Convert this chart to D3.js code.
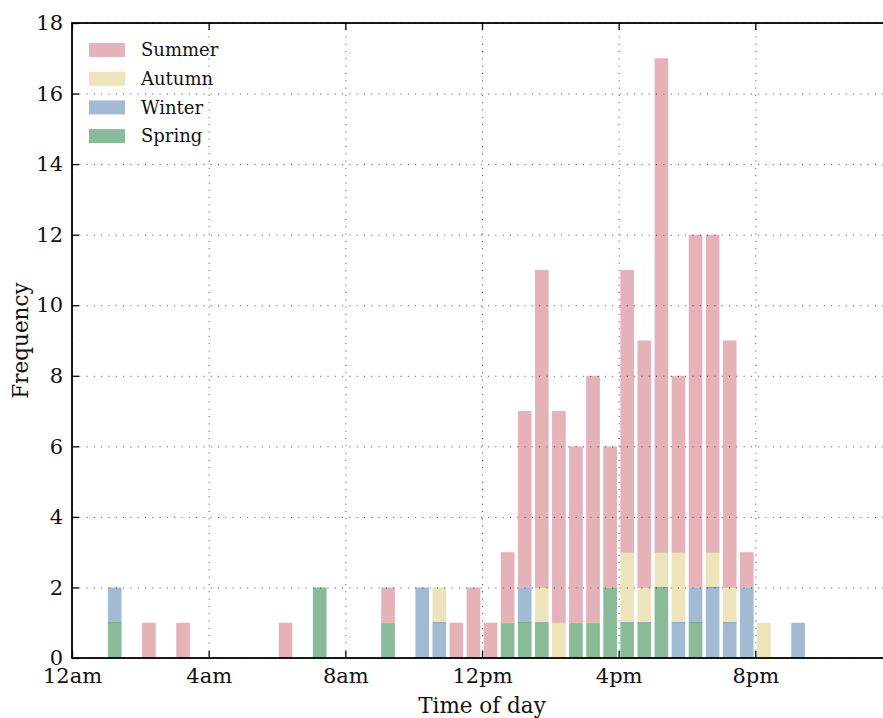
<!DOCTYPE html>
<html>
<head>
<meta charset="utf-8">
<script src="https://cdnjs.cloudflare.com/ajax/libs/d3/7.8.5/d3.min.js"></script>
<style>
  body { margin: 0; background: #fff; }
  svg { display: block; font-family: "DejaVu Serif", serif; }
</style>
</head>
<body>
<svg id="chart"></svg>
<script>
// half-hour bins, 0 = 12:00am-12:30am
var binHours = d3.range(0, 24, 0.5);

var spring = [0,0,1,0,0,0,0,0,0,0, 0,0,0,0,2,0,0,0,1,0, 0,0,0,0,0,1,1,1,0,1, 1,2,1,1,2,0,1,0,0,0, 0,0,0,0,0,0,0,0];
var winter = [0,0,1,0,0,0,0,0,0,0, 0,0,0,0,0,0,0,0,0,0, 2,1,0,0,0,0,1,0,0,0, 0,0,0,0,0,1,1,2,1,2, 0,0,1,0,0,0,0,0];
var autumn = [0,0,0,0,0,0,0,0,0,0, 0,0,0,0,0,0,0,0,0,0, 0,1,0,0,0,0,0,1,1,0, 0,0,2,1,1,2,0,1,1,0, 1,0,0,0,0,0,0,0];
var summer = [0,0,0,0,1,0,1,0,0,0, 0,0,1,0,0,0,0,0,1,0, 0,0,1,2,1,2,5,9,6,5, 7,4,8,7,14,5,10,9,7,1, 0,0,0,0,0,0,0,0];

var seasons = ["Spring", "Winter", "Autumn", "Summer"];   // stacking order, bottom first
var colors = { Spring: "#89bb99", Winter: "#a1bbd5", Autumn: "#ede4bb", Summer: "#e5b2ba" };
var edgeColors = { Spring: "#6f9f80", Winter: "#7f9dbd", Autumn: "#d3c79a", Summer: "#d39aa3" };

var xTicks = [0, 4, 8, 12, 16, 20];
var xTickLabels = ["12am", "4am", "8am", "12pm", "4pm", "8pm"];
var yTicks = d3.range(0, 19, 2);

var table = binHours.map(function(h, i) {
  return { hour: h, Spring: spring[i], Winter: winter[i], Autumn: autumn[i], Summer: summer[i] };
});

var svgWidth = 883, svgHeight = 718;
var margin = { top: 23, left: 72, bottom: 60 };
var plotRight = 892;   // right edge of the axes falls just past the picture
var height = svgHeight - margin.top - margin.bottom;

var svg = d3.select("#chart")
    .attr("width", svgWidth)
    .attr("height", svgHeight);

var x = d3.scaleLinear().domain([0, 24]).range([margin.left, plotRight]);
var y = d3.scaleLinear().domain([0, 18]).range([margin.top + height, margin.top]);

var stacked = d3.stack().keys(seasons)(table);
var binW = x(0.5) - x(0);
var barW = binW * 0.8;

var bars = svg.append("g");
stacked.forEach(function(layer) {
  var key = layer.key;
  var segs = layer.filter(function(d) { return d[1] > d[0]; });
  bars.selectAll(null)
      .data(segs)
      .enter().append("rect")
      .attr("x", function(d) { return x(d.data.hour) + (binW - barW) / 2; })
      .attr("y", function(d) { return y(d[1]); })
      .attr("width", barW)
      .attr("height", function(d) { return y(d[0]) - y(d[1]); })
      .attr("fill", colors[key]);
  // faint darker edge where segments meet
  bars.selectAll(null)
      .data(segs.filter(function(d) { return d[0] > 0; }))
      .enter().append("line")
      .attr("x1", function(d) { return x(d.data.hour) + (binW - barW) / 2; })
      .attr("x2", function(d) { return x(d.data.hour) + (binW + barW) / 2; })
      .attr("y1", function(d) { return y(d[0]); })
      .attr("y2", function(d) { return y(d[0]); })
      .attr("stroke", function(d) {
        var below = seasons[seasons.indexOf(key) - 1];
        return edgeColors[below];
      })
      .attr("stroke-width", 1);
});

// dotted grid, drawn over bars
var grid = svg.append("g")
    .attr("stroke", "#444")
    .attr("stroke-width", 1)
    .attr("stroke-dasharray", "1,6.3");
grid.selectAll(null).data(xTicks.concat([24])).enter().append("line")
    .attr("x1", function(d) { return x(d) + 0.5; })
    .attr("x2", function(d) { return x(d) + 0.5; })
    .attr("y1", y(0)).attr("y2", y(18));
grid.selectAll(null).data(yTicks).enter().append("line")
    .attr("x1", x(0)).attr("x2", x(24))
    .attr("y1", function(d) { return y(d) + 0.5; })
    .attr("y2", function(d) { return y(d) + 0.5; });

var tickLen = 7;
var fmtX = function(d) { return xTickLabels[xTicks.indexOf(d)]; };

var xAxis = svg.append("g")
    .attr("transform", "translate(0," + y(0) + ")")
    .call(d3.axisBottom(x).tickValues(xTicks).tickFormat(fmtX)
      .tickSizeInner(-tickLen).tickSizeOuter(0).tickPadding(10));
var xAxisTop = svg.append("g")
    .attr("transform", "translate(0," + y(18) + ")")
    .call(d3.axisTop(x).tickValues(xTicks).tickFormat("")
      .tickSizeInner(-tickLen).tickSizeOuter(0));
var yAxis = svg.append("g")
    .attr("transform", "translate(" + x(0) + ",0)")
    .call(d3.axisLeft(y).tickValues(yTicks)
      .tickSizeInner(-tickLen).tickSizeOuter(0).tickPadding(9));
var yAxisRight = svg.append("g")
    .attr("transform", "translate(" + x(24) + ",0)")
    .call(d3.axisRight(y).tickValues(yTicks).tickFormat("")
      .tickSizeInner(-tickLen).tickSizeOuter(0));

[xAxis, xAxisTop, yAxis, yAxisRight].forEach(function(a) {
  a.select(".domain").remove();
  a.selectAll(".tick line").attr("stroke", "#000").attr("stroke-width", 1.3);
  a.selectAll("text")
      .attr("fill", "#111")
      .style("font-family", "'DejaVu Serif', serif")
      .style("font-size", "21px");
});

// spines
svg.append("rect")
    .attr("x", x(0)).attr("y", y(18))
    .attr("width", x(24) - x(0)).attr("height", y(0) - y(18))
    .attr("fill", "none")
    .attr("stroke", "#000")
    .attr("stroke-width", 1.8);

svg.append("text")
    .attr("x", (x(0) + x(24)) / 2)
    .attr("y", 713)
    .attr("text-anchor", "middle")
    .attr("fill", "#111")
    .style("font-size", "21.5px")
    .text("Time of day");

svg.append("text")
    .attr("transform", "translate(28," + (y(0) + y(18)) / 2 + ") rotate(-90)")
    .attr("text-anchor", "middle")
    .attr("fill", "#111")
    .style("font-size", "21.5px")
    .text("Frequency");

// legend, top season first
var legendOrder = seasons.slice().reverse();
var legend = svg.append("g").attr("transform", "translate(89,50)");
var rows = legend.selectAll("g").data(legendOrder).enter().append("g")
    .attr("transform", function(d, i) { return "translate(0," + (i * 28.7) + ")"; });
rows.append("rect")
    .attr("x", 0).attr("y", -7)
    .attr("width", 36).attr("height", 14)
    .attr("fill", function(d) { return colors[d]; });
rows.append("text")
    .attr("x", 52)
    .attr("y", 0)
    .attr("dy", "0.35em")
    .attr("fill", "#111")
    .style("font-size", "18px")
    .text(function(d) { return d; });
</script>
</body>
</html>
